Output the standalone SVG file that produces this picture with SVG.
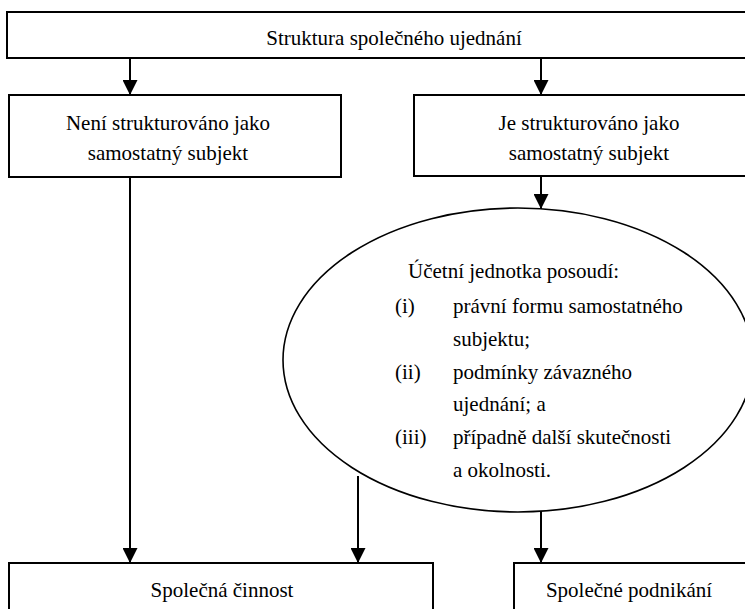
<svg xmlns="http://www.w3.org/2000/svg" width="745" height="609" viewBox="0 0 745 609">
  <style>
    .box { fill: #ffffff; stroke: #000000; stroke-width: 2; }
    .oval { fill: #ffffff; stroke: #000000; stroke-width: 1.6; }
    .lbl { font-family: "Liberation Serif", "Times New Roman", serif; font-size: 21px; fill: #000000; }
    .mid { text-anchor: middle; }
    .conn { stroke: #000000; stroke-width: 2; fill: none; marker-end: url(#head); }
  </style>
  <defs>
    <marker id="head" markerUnits="userSpaceOnUse" markerWidth="15" markerHeight="15" refX="15" refY="7.5" orient="auto">
      <path d="M0,0 L15,7.5 L0,15 Z" fill="#000000"/>
    </marker>
  </defs>
  <rect width="745" height="609" fill="#ffffff"/>

  <!-- top: structure of the joint arrangement -->
  <g id="structure">
    <rect class="box" x="7" y="12" width="780" height="46"/>
    <text class="lbl mid" x="394" y="45">Struktura společného ujednání</text>
  </g>

  <!-- not a separate vehicle -->
  <g id="not-separate">
    <rect class="box" x="9" y="95" width="332" height="82"/>
    <text class="lbl mid" x="168" y="130">Není strukturováno jako</text>
    <text class="lbl mid" x="168" y="160">samostatný subjekt</text>
  </g>

  <!-- separate vehicle -->
  <g id="separate">
    <rect class="box" x="414" y="95" width="380" height="81"/>
    <text class="lbl mid" x="589" y="130">Je strukturováno jako</text>
    <text class="lbl mid" x="589" y="160">samostatný subjekt</text>
  </g>

  <!-- assessment -->
  <g id="assessment">
    <ellipse class="oval" cx="518" cy="360" rx="235" ry="152"/>
    <text class="lbl" x="408" y="278">Účetní jednotka posoudí:</text>
    <text class="lbl" x="395" y="313">(i)</text>
    <text class="lbl" x="453" y="313">právní formu samostatného</text>
    <text class="lbl" x="453" y="346">subjektu;</text>
    <text class="lbl" x="395" y="379">(ii)</text>
    <text class="lbl" x="453" y="379">podmínky závazného</text>
    <text class="lbl" x="453" y="411">ujednání; a</text>
    <text class="lbl" x="395" y="444">(iii)</text>
    <text class="lbl" x="453" y="444">případně další skutečnosti</text>
    <text class="lbl" x="453" y="477">a okolnosti.</text>
  </g>

  <!-- joint operation -->
  <g id="joint-operation">
    <rect class="box" x="9" y="563" width="424" height="80"/>
    <text class="lbl mid" x="222" y="597">Společná činnost</text>
  </g>

  <!-- joint venture -->
  <g id="joint-venture">
    <rect class="box" x="514" y="563" width="280" height="80"/>
    <text class="lbl mid" x="629" y="597">Společné podnikání</text>
  </g>

  <g id="connectors">
    <line class="conn" x1="130" y1="58" x2="130" y2="95"/>
    <line class="conn" x1="541" y1="58" x2="541" y2="95"/>
    <line class="conn" x1="541" y1="176" x2="541" y2="209"/>
    <line class="conn" x1="130" y1="177" x2="130" y2="563"/>
    <line class="conn" x1="358" y1="476" x2="358" y2="563"/>
    <line class="conn" x1="541" y1="511" x2="541" y2="563"/>
  </g>
</svg>
